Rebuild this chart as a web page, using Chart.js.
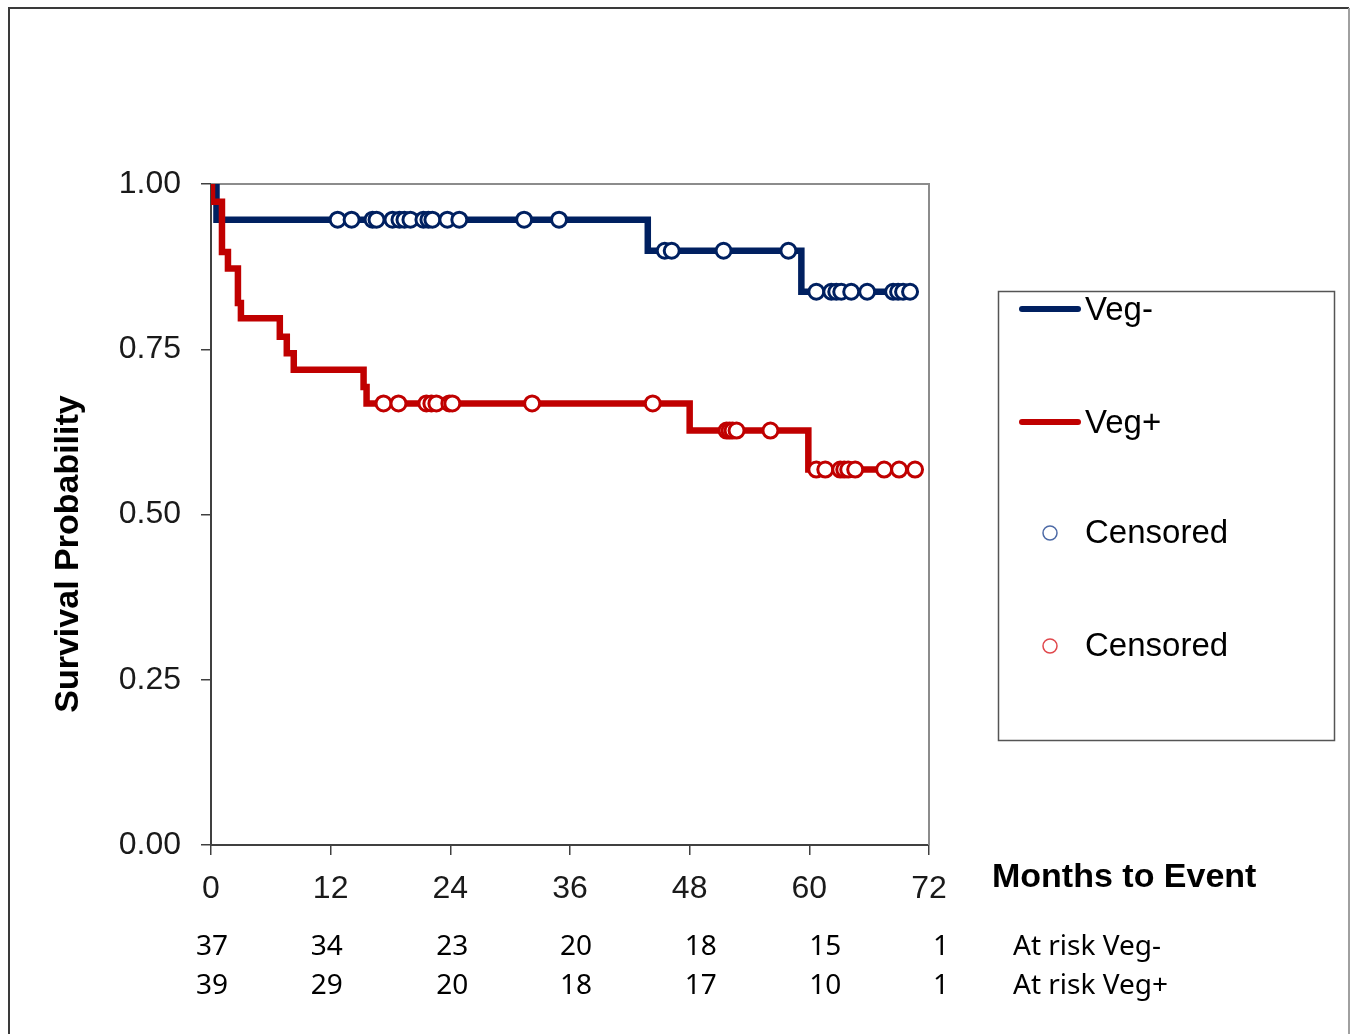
<!DOCTYPE html>
<html>
<head>
<meta charset="utf-8">
<script src="https://cdn.jsdelivr.net/npm/chart.js@4"></script>
<style>
  body { margin: 0; background: #fff; }
</style>
</head>
<body>
<canvas id="kmChart" width="1353" height="1034"></canvas>
<script>
// Kaplan-Meier steps (months, survival after the step)
const vegNegTimes = [0, 0.55, 43.8, 59.2, 70.1];
const vegNegSurv  = [1, 0.946, 0.899, 0.837, 0.837];
const vegPosTimes = [0, 0.1, 1.1, 1.7, 2.7, 3.0, 6.9, 7.6, 8.3, 15.3, 15.6, 48.0, 59.9, 70.6];
const vegPosSurv  = [1, 0.973, 0.897, 0.872, 0.820, 0.797, 0.769, 0.744, 0.719, 0.693, 0.668, 0.627, 0.568, 0.568];

// censoring times
const vegNegCensor = [12.7, 14.1, 16.2, 16.6, 18.2, 18.9, 19.4, 20.0, 21.3, 21.8, 22.2, 23.7, 24.9, 31.4, 34.9,
  45.5, 46.2, 51.4, 57.9, 60.7, 62.2, 62.7, 63.2, 64.2, 65.8, 68.4, 68.9, 69.4, 70.1];
const vegPosCensor = [17.3, 18.8, 21.6, 22.1, 22.6, 23.9, 24.2, 32.2, 44.3, 51.7, 52.0, 52.3, 52.7, 56.1,
  60.7, 61.6, 63.1, 63.5, 63.9, 64.6, 67.5, 69.0, 70.6];

const xTicks = [0, 12, 24, 36, 48, 60, 72];
const atRiskNeg = [37, 34, 23, 20, 18, 15, 1];
const atRiskPos = [39, 29, 20, 18, 17, 10, 1];

const NAVY = "#002060";
const RED = "#c00000";
const FONT = "'Liberation Sans', Arial, sans-serif";

// survival level of a step curve at time t
function levelAt(times, surv, t) {
  let s = surv[0];
  for (let i = 0; i < times.length; i++) {
    if (times[i] <= t) s = surv[i];
  }
  return s;
}

const stepPoints = (times, surv) => times.map((t, i) => ({ x: t, y: surv[i] }));
const censorPoints = (cens, times, surv) => cens.map(t => ({ x: t, y: levelAt(times, surv, t) }));

const decor = {
  id: "decor",
  beforeDatasetsDraw(chart) {
    const { ctx, chartArea: a } = chart;
    ctx.save();
    ctx.strokeStyle = "#8c8c8c";
    ctx.lineWidth = 2;
    ctx.beginPath();
    ctx.moveTo(a.left, a.top);
    ctx.lineTo(a.right, a.top);
    ctx.lineTo(a.right, a.bottom);
    ctx.stroke();
    ctx.restore();
  },
  afterDraw(chart) {
    const { ctx } = chart;
    const xs = chart.scales.x;
    ctx.save();

    // outer frame
    ctx.lineWidth = 2;
    ctx.strokeStyle = "#3a3a3a";
    ctx.beginPath();
    ctx.moveTo(9, 1034);
    ctx.lineTo(9, 8);
    ctx.lineTo(1349, 8);
    ctx.stroke();
    ctx.strokeStyle = "#a0a0a0";
    ctx.beginPath();
    ctx.moveTo(1349, 8);
    ctx.lineTo(1349, 1034);
    ctx.stroke();

    // y title
    ctx.fillStyle = "#000";
    ctx.font = "bold 34px " + FONT;
    ctx.textAlign = "center";
    ctx.textBaseline = "middle";
    ctx.save();
    ctx.translate(69, 554);
    ctx.rotate(-Math.PI / 2);
    ctx.fillText("Survival Probability", 0, 0);
    ctx.restore();

    // x title
    ctx.textAlign = "left";
    ctx.font = "bold 34px " + FONT;
    ctx.fillText("Months to Event", 992, 878);

    // at-risk table
    ctx.font = "28px 'Noto Sans', sans-serif";
    ctx.textAlign = "center";
    const shift = [1, -4, 2, 6, 11, 16, 12];
    xTicks.forEach((t, i) => {
      const px = xs.getPixelForValue(t) + shift[i];
      ctx.fillText(String(atRiskNeg[i]), px, 947);
      ctx.fillText(String(atRiskPos[i]), px, 986);
    });
    ctx.textAlign = "left";
    ctx.fillText("At risk Veg-", 1013, 947);
    ctx.fillText("At risk Veg+", 1013, 986);

    // legend
    ctx.strokeStyle = "#555";
    ctx.lineWidth = 1.5;
    ctx.strokeRect(998.5, 291.5, 336, 449);
    ctx.lineCap = "round";
    const lines = [[NAVY, "Veg-", 309], [RED, "Veg+", 422]];
    lines.forEach(([c, label, y]) => {
      ctx.strokeStyle = c;
      ctx.lineWidth = 6;
      ctx.beginPath();
      ctx.moveTo(1022, y);
      ctx.lineTo(1078, y);
      ctx.stroke();
      ctx.fillStyle = "#000";
      ctx.font = "33px " + FONT;
      ctx.fillText(label, 1085, y + 2);
    });
    const circles = [["#4d6aa6", 533], ["#e0474c", 646]];
    circles.forEach(([c, y]) => {
      ctx.strokeStyle = c;
      ctx.lineWidth = 1.5;
      ctx.beginPath();
      ctx.arc(1050, y, 7, 0, Math.PI * 2);
      ctx.stroke();
      ctx.fillStyle = "#000";
      ctx.font = "33px " + FONT;
      ctx.fillText("Censored", 1085, y + 1);
    });
    ctx.restore();
  }
};

new Chart(document.getElementById("kmChart"), {
  type: "line",
  data: {
    datasets: [
      {
        label: "Censored Veg+",
        data: censorPoints(vegPosCensor, vegPosTimes, vegPosSurv),
        showLine: false,
        pointRadius: 7.5,
        pointBorderWidth: 3,
        pointBackgroundColor: "#fff",
        pointBorderColor: RED,
        order: 0
      },
      {
        label: "Censored Veg-",
        data: censorPoints(vegNegCensor, vegNegTimes, vegNegSurv),
        showLine: false,
        pointRadius: 7.5,
        pointBorderWidth: 3,
        pointBackgroundColor: "#fff",
        pointBorderColor: NAVY,
        order: 1
      },
      {
        label: "Veg+",
        data: stepPoints(vegPosTimes, vegPosSurv),
        stepped: "before",
        borderColor: RED,
        borderWidth: 6.5,
        pointRadius: 0,
        fill: false,
        order: 2
      },
      {
        label: "Veg-",
        data: stepPoints(vegNegTimes, vegNegSurv),
        stepped: "before",
        borderColor: NAVY,
        borderWidth: 6.5,
        pointRadius: 0,
        fill: false,
        order: 3
      }
    ]
  },
  options: {
    responsive: false,
    animation: false,
    layout: { padding: { left: 0, top: 184, right: 424, bottom: 0 } },
    plugins: { legend: { display: false }, tooltip: { enabled: false } },
    scales: {
      x: {
        type: "linear",
        min: 0,
        max: 72,
        afterFit: s => { s.height = 189; },
        afterBuildTicks: s => { s.ticks = xTicks.map(v => ({ value: v })); },
        ticks: { padding: 15, color: "#1a1a1a", font: { family: FONT, size: 32 }, maxRotation: 0 },
        grid: { drawOnChartArea: false, tickLength: 10, color: "#404040", lineWidth: 1.5 },
        border: { color: "#404040", width: 2 }
      },
      y: {
        min: 0,
        max: 1,
        afterFit: s => { s.width = 211; },
        ticks: {
          stepSize: 0.25,
          padding: 20,
          color: "#1a1a1a",
          font: { family: FONT, size: 32 },
          callback: v => v.toFixed(2)
        },
        grid: { drawOnChartArea: false, tickLength: 10, color: "#404040", lineWidth: 1.5 },
        border: { color: "#404040", width: 2 }
      }
    }
  },
  plugins: [decor]
});
</script>
</body>
</html>
